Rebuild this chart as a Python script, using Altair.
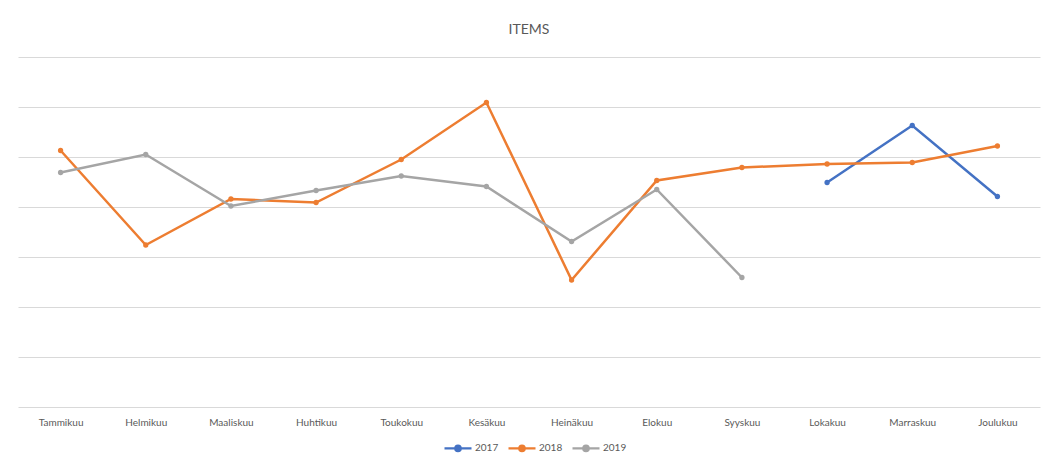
import altair as alt
import pandas as pd

months = ["Tammikuu", "Helmikuu", "Maaliskuu", "Huhtikuu", "Toukokuu", "Kesäkuu",
          "Heinäkuu", "Elokuu", "Syyskuu", "Lokakuu", "Marraskuu", "Joulukuu"]
series = ["2017", "2018", "2019"]
colors = ["#4472C4", "#ED7D31", "#A5A5A5"]

v2017 = [None, None, None, None, None, None, None, None, None, 44.9, 56.3, 42.1]
v2018 = [51.3, 32.4, 41.6, 40.9, 49.5, 60.9, 25.4, 45.3, 47.9, 48.6, 48.9, 52.2]
v2019 = [46.9, 50.5, 40.2, 43.3, 46.2, 44.1, 33.1, 43.5, 25.9, None, None, None]

rows = []
for name, vals in zip(series, [v2017, v2018, v2019]):
    for m, v in zip(months, vals):
        if v is not None:
            rows.append({"month": m, "series": name, "value": v})
df = pd.DataFrame(rows)

FONT = "Lato"
TXT = "#595959"

legend_symbol = "M-1,0L1,0M-0.2,0a0.2,0.2 0 1,0 0.4,0a0.2,0.2 0 1,0 -0.4,0"

base = alt.Chart(df).encode(
    x=alt.X("month:N", sort=months,
            scale=alt.Scale(type="point", padding=0.5),
            axis=alt.Axis(title=None, domain=False, ticks=False, grid=False,
                          labelAngle=0, labelFontSize=10, labelColor=TXT,
                          labelFont=FONT, labelPadding=10)),
    y=alt.Y("value:Q", scale=alt.Scale(domain=[0, 70], nice=False, zero=True),
            axis=alt.Axis(title=None, domain=False, ticks=False, labels=False,
                          values=[0, 10, 20, 30, 40, 50, 60, 70],
                          grid=True, gridColor="#D9D9D9", gridWidth=1)),
    color=alt.Color("series:N", scale=alt.Scale(domain=series, range=colors),
                    legend=alt.Legend(title=None, orient="none", direction="horizontal",
                                      legendX=425, legendY=376,
                                      symbolType=legend_symbol, symbolSize=729,
                                      symbolStrokeWidth=2.25,
                                      labelFontSize=10, labelColor=TXT, labelFont=FONT,
                                      labelOffset=2, columnPadding=5)),
    detail="series:N",
)

lines = base.mark_line(strokeWidth=2.5)
points = base.mark_point(filled=True, size=28, opacity=1)

chart = alt.layer(lines, points).properties(
    width=1022, height=350,
    background="white",
    title=alt.TitleParams("ITEMS", fontSize=14, color=TXT, font=FONT,
                          fontWeight="normal", offset=20, anchor="middle"),
    autosize=alt.AutoSizeParams(type="none"),
    padding={"left": 18, "top": 57, "right": 7, "bottom": 57},
).configure_view(strokeWidth=0, stroke=None)

chart.save("out.html", embed_options={"renderer": "svg", "actions": False})
